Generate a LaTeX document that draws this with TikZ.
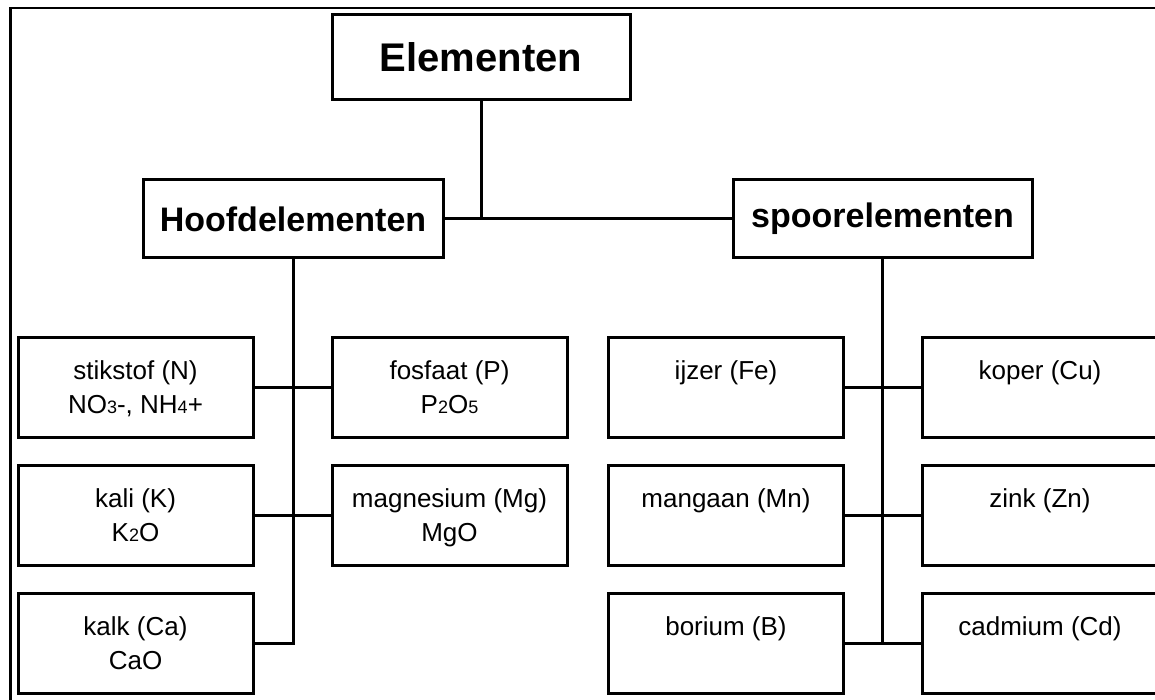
\documentclass[tikz,border=0pt]{standalone}
\usepackage{fontspec}
\setmainfont{Liberation Sans}
\usetikzlibrary{calc}
\newcommand{\sbs}[1]{{\fontsize{18}{18}\selectfont #1}}
\begin{document}
\begin{tikzpicture}[x=1pt,y=-1pt,
  box/.style={draw, line width=3pt, rectangle, inner sep=0pt, minimum width=235pt, minimum height=100pt},
  head/.style={draw, line width=3pt, rectangle, inner sep=0pt, font=\bfseries},
  txt/.style={anchor=base, inner sep=0pt, font=\fontsize{26}{26}\selectfont},
  conn/.style={line width=3pt},
  frameline/.style={line width=2.5pt}]
\useasboundingbox (0,0) rectangle (1155,700);
% outer frame (only left and top edges visible)
\coordinate (fbl) at (10.5,712);
\coordinate (ftl) at (10.5,8);
\coordinate (ftr) at (1170,8);
\draw[frameline] (fbl) -- (ftl) -- (ftr);

% heads
\node[head, minimum width=298pt, minimum height=85pt, font=\fontsize{40}{40}\selectfont\bfseries] (elem) at (481,57.5) {Elementen};
\node[head, minimum width=300pt, minimum height=78pt, font=\fontsize{34}{34}\selectfont\bfseries] (hoof) at (293,219) {Hoofdelementen};
\node[head, minimum width=299pt, minimum height=78pt, font=\fontsize{34}{34}\selectfont\bfseries] (spoor) at (882.5,219) {spoorelementen};

% left group boxes
\node[box] (stik) at (135.5,387) {};
\node[box] (fos) at (449.5,387) {};
\node[box] (kali) at (135.5,515) {};
\node[box] (mag) at (449.5,515) {};
\node[box] (kalk) at (135.5,643) {};

% right group boxes
\node[box] (ijz) at (726,387) {};
\node[box] (kop) at (1040,387) {};
\node[box] (mang) at (726,515) {};
\node[box] (zink) at (1040,515) {};
\node[box] (bor) at (726,643) {};
\node[box] (cad) at (1040,643) {};

% texts
\node[txt] (t1a) at ($(stik.north)+(0,44)$) {stikstof (N)};
\node[txt] (t1b) at ($(stik.north)+(0,78)$) {NO\sbs{3}-, NH\sbs{4}+};
\node[txt] (t2a) at ($(fos.north)+(0,44)$) {fosfaat (P)};
\node[txt] (t2b) at ($(fos.north)+(0,78)$) {P\sbs{2}O\sbs{5}};
\node[txt] (t3a) at ($(kali.north)+(0,44)$) {kali (K)};
\node[txt] (t3b) at ($(kali.north)+(0,78)$) {K\sbs{2}O};
\node[txt] (t4a) at ($(mag.north)+(0,44)$) {magnesium (Mg)};
\node[txt] (t4b) at ($(mag.north)+(0,78)$) {MgO};
\node[txt] (t5a) at ($(kalk.north)+(0,44)$) {kalk (Ca)};
\node[txt] (t5b) at ($(kalk.north)+(0,78)$) {CaO};
\node[txt] (t6) at ($(ijz.north)+(0,44)$) {ijzer (Fe)};
\node[txt] (t7) at ($(kop.north)+(0,44)$) {koper (Cu)};
\node[txt] (t8) at ($(mang.north)+(0,44)$) {mangaan (Mn)};
\node[txt] (t9) at ($(zink.north)+(0,44)$) {zink (Zn)};
\node[txt] (t10) at ($(bor.north)+(0,44)$) {borium (B)};
\node[txt] (t11) at ($(cad.north)+(0,44)$) {cadmium (Cd)};

% connectors
\draw[conn] (elem.south) -- (elem.south |- hoof.east);
\draw[conn] (hoof.east) -- (spoor.west);
\draw[conn] (hoof.south) -- (hoof.south |- kalk.east) -- (kalk.east);
\draw[conn] (stik.east) -- (fos.west);
\draw[conn] (kali.east) -- (mag.west);
\draw[conn] (spoor.south) -- (spoor.south |- cad.west);
\draw[conn] (ijz.east) -- (kop.west);
\draw[conn] (mang.east) -- (zink.west);
\draw[conn] (bor.east) -- (cad.west);
\end{tikzpicture}
\end{document}
